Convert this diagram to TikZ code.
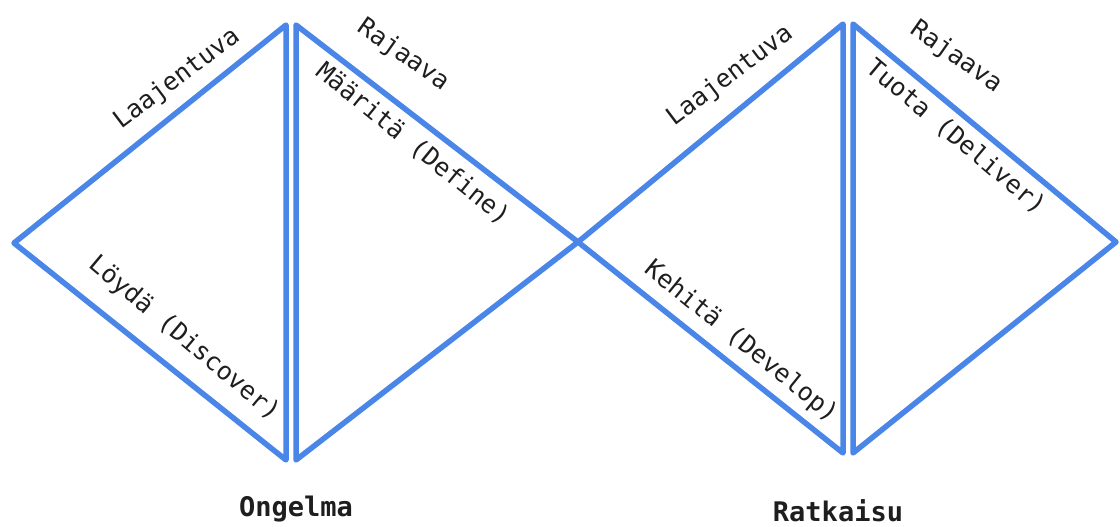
\documentclass[tikz,border=0pt]{standalone}
\usepackage{fontspec}
\setmonofont{DejaVu Sans Mono}
\definecolor{edgeblue}{RGB}{74,134,232}
\definecolor{inkc}{RGB}{30,30,30}
\begin{document}
\begin{tikzpicture}[x=1pt,y=-1pt,
  tri/.style={draw=edgeblue,line width=5.5pt,line join=round,line cap=round},
  lbl/.style={font=\ttfamily\fontsize{25}{29}\selectfont,text=inkc,inner sep=0pt,anchor=center},
  ttl/.style={font=\ttfamily\bfseries\fontsize{27}{31}\selectfont,text=inkc,inner sep=0pt,anchor=center}]
\useasboundingbox (0,0) rectangle (1120,527);
% vertices
\coordinate (a1) at (14,243);
\coordinate (b1) at (286,25);
\coordinate (c1) at (286,460);
\coordinate (a2) at (296,25);
\coordinate (b2) at (296,460);
\coordinate (m)  at (578,242);
\coordinate (a3) at (843,24);
\coordinate (b3) at (843,453);
\coordinate (a4) at (853,24);
\coordinate (b4) at (853,453);
\coordinate (r)  at (1116,242);
% triangles
\draw[tri] (a1) -- (b1) -- (c1) -- cycle;
\draw[tri] (a2) -- (b2) -- (m) -- cycle;
\draw[tri] (m) -- (a3) -- (b3) -- cycle;
\draw[tri] (a4) -- (b4) -- (r) -- cycle;
% labels
\node[lbl,rotate=37]  (l1) at (177,79)  {Laajentuva};
\node[lbl,rotate=-35] (l2) at (403,55)  {Rajaava};
\node[lbl,rotate=-39] (l3) at (413,144) {Määritä (Define)};
\node[lbl,rotate=-40] (l4) at (184,339) {Löydä (Discover)};
\node[lbl,rotate=-39] (l5) at (741,342) {Kehitä (Develop)};
\node[lbl,rotate=37]  (l6) at (730,76)  {Laajentuva};
\node[lbl,rotate=-35] (l7) at (956,57)  {Rajaava};
\node[lbl,rotate=-40] (l8) at (956,137) {Tuota (Deliver)};
\node[ttl] (t1) at (296,509) {Ongelma};
\node[ttl] (t2) at (838,511) {Ratkaisu};
\end{tikzpicture}
\end{document}
